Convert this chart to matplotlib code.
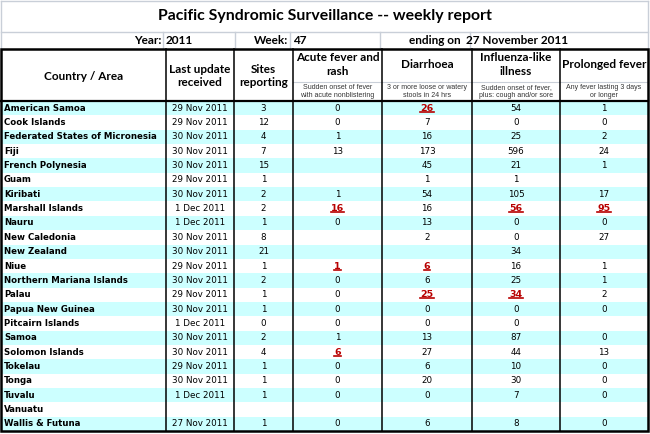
import matplotlib
matplotlib.use("Agg")
import matplotlib.pyplot as plt
from matplotlib.patches import Rectangle

# ---- data ----
countries = ["American Samoa", "Cook Islands", "Federated States of Micronesia", "Fiji",
             "French Polynesia", "Guam", "Kiribati", "Marshall Islands", "Nauru",
             "New Caledonia", "New Zealand", "Niue", "Northern Mariana Islands", "Palau",
             "Papua New Guinea", "Pitcairn Islands", "Samoa", "Solomon Islands", "Tokelau",
             "Tonga", "Tuvalu", "Vanuatu", "Wallis & Futuna"]
last_update = ["29 Nov 2011", "29 Nov 2011", "30 Nov 2011", "30 Nov 2011", "30 Nov 2011",
               "29 Nov 2011", "30 Nov 2011", "1 Dec 2011", "1 Dec 2011", "30 Nov 2011",
               "30 Nov 2011", "29 Nov 2011", "30 Nov 2011", "29 Nov 2011", "30 Nov 2011",
               "1 Dec 2011", "30 Nov 2011", "30 Nov 2011", "29 Nov 2011", "30 Nov 2011",
               "1 Dec 2011", "", "27 Nov 2011"]
sites = [3, 12, 4, 7, 15, 1, 2, 2, 1, 8, 21, 1, 2, 1, 1, 0, 2, 4, 1, 1, 1, None, 1]
acute_fever_rash = [0, 0, 1, 13, None, None, 1, 16, 0, None, None, 1, 0, 0, 0, 0, 1, 6, 0, 0, 0, None, 0]
diarrhoea = [26, 7, 16, 173, 45, 1, 54, 16, 13, 2, None, 6, 6, 25, 0, 0, 13, 27, 6, 20, 0, None, 6]
ili = [54, 0, 25, 596, 21, 1, 105, 56, 0, 0, 34, 16, 25, 34, 0, 0, 87, 44, 10, 30, 7, None, 8]
prolonged_fever = [1, 0, 2, 24, 1, None, 17, 95, 0, 27, None, 1, 1, 2, 0, None, 0, 13, 0, 0, 0, None, 0]

# cells flagged as alerts (row, column index among the 4 syndromes)
alerts = [(0, 1), (7, 0), (7, 2), (7, 3), (11, 0), (11, 1), (13, 1), (13, 2), (17, 0)]

title = "Pacific Syndromic Surveillance -- weekly report"
year, week, ending = "2011", "47", "27 November 2011"
col_titles = ["Country / Area", "Last update\nreceived", "Sites\nreporting",
              "Acute fever and\nrash", "Diarrhoea", "Influenza-like\nillness", "Prolonged fever"]
col_notes = ["Sudden onset of fever\nwith acute nonblistering",
             "3 or more loose or watery\nstools in 24 hrs",
             "Sudden onset of fever,\nplus: cough and/or sore",
             "Any fever lasting 3 days\nor longer"]

# ---- layout (pixels) ----
edges = [1, 166, 234, 293, 382, 472, 560, 648]
centers = [(a + b) / 2 for a, b in zip(edges[:-1], edges[1:])]
title_bot, year_bot, head_bot = 32, 49, 101
row_h = 14.35
table_bot = head_bot + row_h * len(countries)
cyan = "#CCFFFF"
alert_red = "#B80000"
grey = "#C9CFD8"
head_font = "Lato"
body_font = "DejaVu Sans"

fig = plt.figure(figsize=(6.5, 4.34), dpi=100)
ax = fig.add_axes([0, 0, 1, 1])
ax.set_xlim(0, 650)
ax.set_ylim(434, 0)
ax.axis("off")

# light grid for title / year rows
ax.plot([1, 648], [1, 1], color=grey, lw=1)
ax.plot([1, 648], [title_bot, title_bot], color=grey, lw=1)
ax.plot([1, 1], [1, year_bot], color=grey, lw=1)
ax.plot([648, 648], [1, year_bot], color=grey, lw=1)
for x in [163, 235, 290, 380, 470]:
    ax.plot([x, x], [title_bot, year_bot], color=grey, lw=1)

ax.text(325, 16, title, ha="center", va="center", fontsize=11.4,
        fontweight="bold", family=head_font)
ax.text(161, 41, "Year:", ha="right", va="center", fontsize=8.5, fontweight="bold", family=head_font)
ax.text(166, 41, year, ha="left", va="center", fontsize=8.5, fontweight="bold", family=head_font)
ax.text(288, 41, "Week:", ha="right", va="center", fontsize=8.5, fontweight="bold", family=head_font)
ax.text(293, 41, week, ha="left", va="center", fontsize=8.5, fontweight="bold", family=head_font)
ax.text(461, 41, "ending on", ha="right", va="center", fontsize=8.5, fontweight="bold", family=head_font)
ax.text(466, 41, ending, ha="left", va="center", fontsize=8.5, fontweight="bold", family=head_font)

# row bands
for i in range(len(countries)):
    fc = cyan if i % 2 == 0 else "white"
    ax.add_patch(Rectangle((edges[0], head_bot + i * row_h), edges[-1] - edges[0], row_h,
                           facecolor=fc, edgecolor="none", zorder=0))

# header texts
for j, t in enumerate(col_titles):
    if j < 3:
        ax.text(centers[j], 76, t, ha="center", va="center", fontsize=8.5,
                fontweight="bold", family=head_font, linespacing=1.3)
    else:
        ax.text(centers[j], 64.5, t, ha="center", va="center", fontsize=8.5,
                fontweight="bold", family=head_font, linespacing=1.3)
        ax.text(centers[j], 91.5, col_notes[j - 3], ha="center", va="center", fontsize=5.0,
                family="Liberation Sans", color="#333333", linespacing=1.2)
ax.plot([edges[3], edges[-1]], [82, 82], color=grey, lw=0.8)

# body
renderer = fig.canvas.get_renderer()
syndromes = [acute_fever_rash, diarrhoea, ili, prolonged_fever]
for i, name in enumerate(countries):
    y = head_bot + (i + 0.5) * row_h
    ax.text(4, y, name, ha="left", va="center", fontsize=6.2, fontweight="bold", family=body_font)
    ax.text(centers[1], y, last_update[i], ha="center", va="center", fontsize=6.3, family=body_font)
    if sites[i] is not None:
        ax.text(centers[2], y, str(sites[i]), ha="center", va="center", fontsize=6.3, family=body_font)
    for k, vals in enumerate(syndromes):
        v = vals[i]
        if v is None:
            continue
        if (i, k) in alerts:
            t = ax.text(centers[3 + k], y, str(v), ha="center", va="center", fontsize=6.8,
                        fontweight="bold", color=alert_red, family=body_font)
            bb = t.get_window_extent(renderer=renderer).transformed(ax.transData.inverted())
            yl = max(bb.y0, bb.y1) - 1.0
            ax.plot([bb.x0, bb.x1], [yl, yl], color=alert_red, lw=1.2)
        else:
            ax.text(centers[3 + k], y, str(v), ha="center", va="center", fontsize=6.3, family=body_font)

# black rules
for x in edges[1:-1]:
    ax.plot([x, x], [year_bot, table_bot], color="black", lw=1.1)
ax.plot([edges[0], edges[-1]], [head_bot, head_bot], color="black", lw=1.6)
ax.add_patch(Rectangle((edges[0], year_bot), edges[-1] - edges[0], table_bot - year_bot,
                       facecolor="none", edgecolor="black", lw=1.8, zorder=5))

fig.savefig("out.png", dpi=100)
